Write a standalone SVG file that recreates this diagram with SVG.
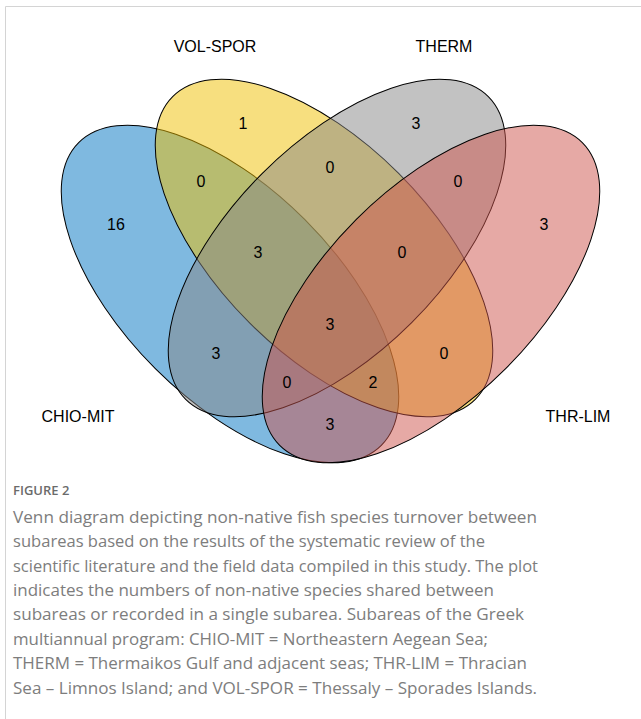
<svg xmlns="http://www.w3.org/2000/svg" width="641" height="719" viewBox="0 0 641 719">
  <style>
    .set { fill-opacity: 0.5; stroke: #000; stroke-width: 1; }
    .cat { font-family: "Liberation Sans", Arial, sans-serif; font-size: 16px; fill: #000; text-anchor: middle; }
    .num { font-family: "Liberation Sans", Arial, sans-serif; font-size: 16px; fill: #000; text-anchor: middle; }
    .fig { font-family: "Open Sans", "Noto Sans", sans-serif; font-size: 13px; font-weight: 600; fill: #6b6b6b; }
    .cap { font-family: "Open Sans", "Noto Sans", sans-serif; font-size: 17px; fill: #7d7d7d; }
  </style>
  <rect x="0" y="0" width="641" height="719" fill="#fff"/>
  <path d="M5.5,719 V6.5 H641" fill="none" stroke="#d4d4d4" stroke-width="1"/>

  <g id="chio-mit">
    <ellipse class="set" cx="230" cy="294" rx="214" ry="105.6" transform="rotate(45 230 294)" fill="#0073C2"/>
    <text class="cat" x="78" y="422">CHIO-MIT</text>
  </g>
  <g id="vol-spor">
    <ellipse class="set" cx="324" cy="248" rx="214" ry="105.6" transform="rotate(45 324 248)" fill="#EFC000"/>
    <text class="cat" x="215" y="52">VOL-SPOR</text>
  </g>
  <g id="therm">
    <ellipse class="set" cx="337" cy="248" rx="214" ry="105.6" transform="rotate(-45 337 248)" fill="#868686"/>
    <text class="cat" x="444" y="52">THERM</text>
  </g>
  <g id="thr-lim">
    <ellipse class="set" cx="431" cy="294" rx="214" ry="105.6" transform="rotate(-45 431 294)" fill="#CD534C"/>
    <text class="cat" x="578" y="422">THR-LIM</text>
  </g>

  <g id="counts">
    <text class="num" x="243" y="129">1</text>
    <text class="num" x="416" y="129">3</text>
    <text class="num" x="201" y="187">0</text>
    <text class="num" x="330" y="173">0</text>
    <text class="num" x="458" y="187">0</text>
    <text class="num" x="116" y="230">16</text>
    <text class="num" x="544" y="230">3</text>
    <text class="num" x="258" y="258">3</text>
    <text class="num" x="402" y="258">0</text>
    <text class="num" x="330" y="330">3</text>
    <text class="num" x="216" y="359">3</text>
    <text class="num" x="444" y="359">0</text>
    <text class="num" x="287" y="388">0</text>
    <text class="num" x="373" y="388">2</text>
    <text class="num" x="330" y="430">3</text>
  </g>

  <g id="caption">
    <text class="fig" x="13" y="495">FIGURE 2</text>
    <text class="cap" x="13" y="523" textLength="524" lengthAdjust="spacingAndGlyphs">Venn diagram depicting non-native fish species turnover between</text>
    <text class="cap" x="13" y="547" textLength="472" lengthAdjust="spacingAndGlyphs">subareas based on the results of the systematic review of the</text>
    <text class="cap" x="13" y="572" textLength="525" lengthAdjust="spacingAndGlyphs">scientific literature and the field data compiled in this study. The plot</text>
    <text class="cap" x="13" y="596" textLength="481" lengthAdjust="spacingAndGlyphs">indicates the numbers of non-native species shared between</text>
    <text class="cap" x="13" y="620" textLength="511" lengthAdjust="spacingAndGlyphs">subareas or recorded in a single subarea. Subareas of the Greek</text>
    <text class="cap" x="13" y="645" textLength="475" lengthAdjust="spacingAndGlyphs">multiannual program: CHIO-MIT = Northeastern Aegean Sea;</text>
    <text class="cap" x="13" y="669" textLength="514" lengthAdjust="spacingAndGlyphs">THERM = Thermaikos Gulf and adjacent seas; THR-LIM = Thracian</text>
    <text class="cap" x="13" y="694" textLength="524" lengthAdjust="spacingAndGlyphs">Sea – Limnos Island; and VOL-SPOR = Thessaly – Sporades Islands.</text>
  </g>
</svg>
